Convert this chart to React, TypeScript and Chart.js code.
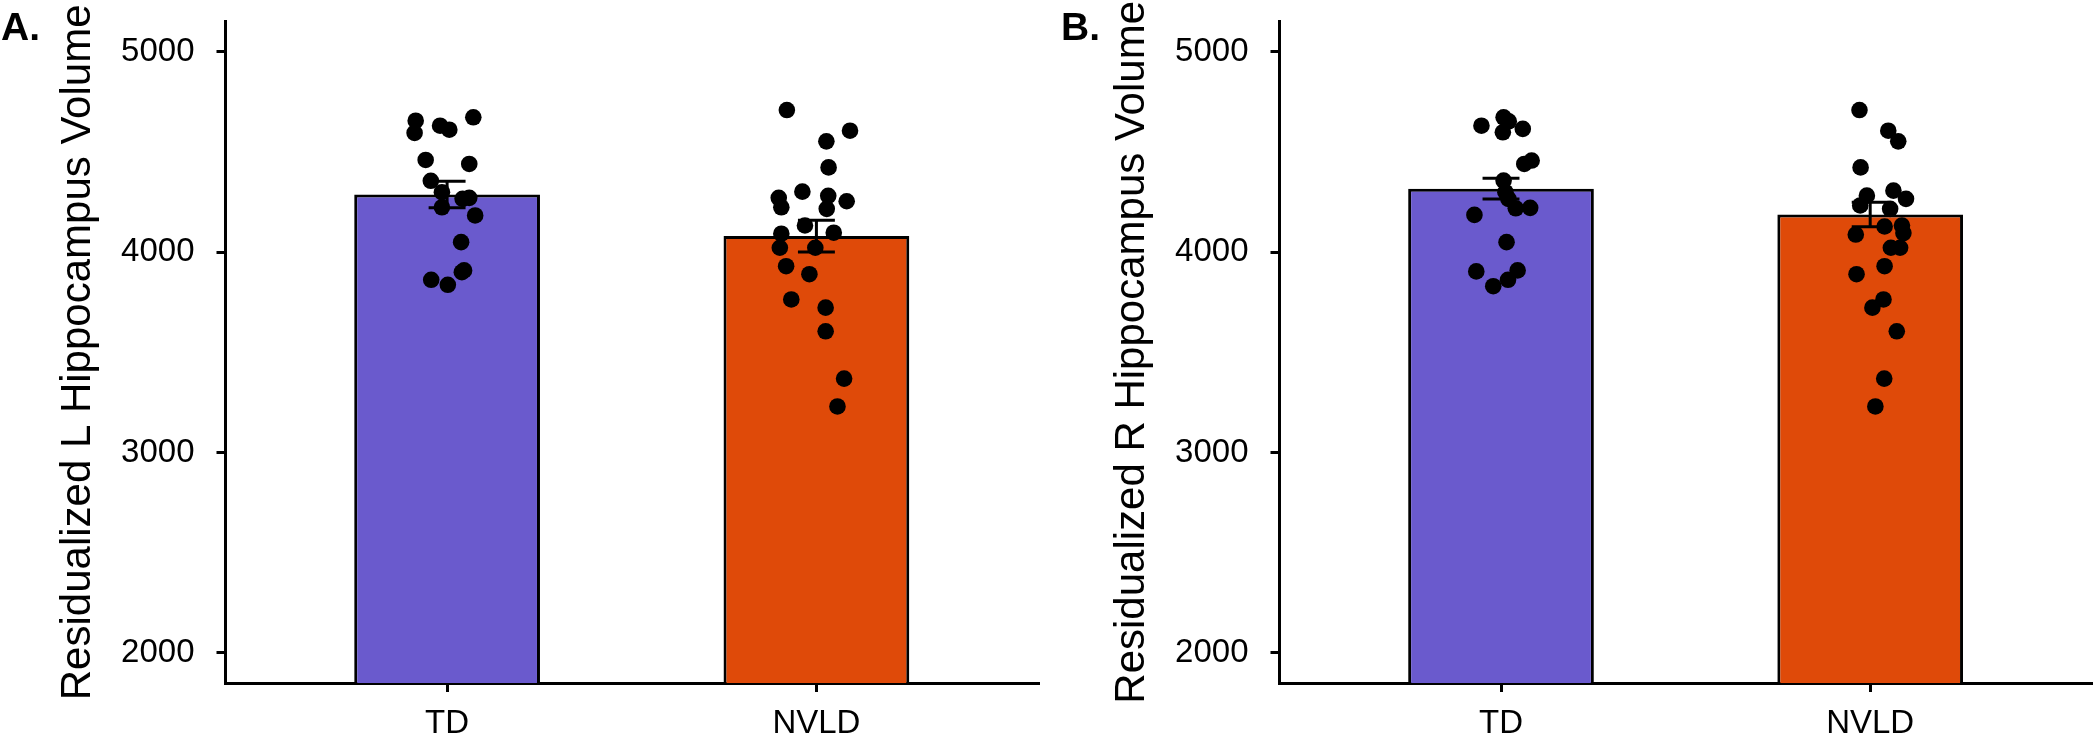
import React, { useEffect, useRef } from 'react';
import { Chart, registerables } from 'chart.js';

Chart.register(...registerables);

// ---------- data ----------
const categories = ['TD', 'NVLD'];
const barColors = ['#6A5ACD', '#DF4A09'];
const yTicks = [2000, 3000, 4000, 5000];
const yMin = 1850;
const yMax = 5150;

const panelLabels = ['A.', 'B.'];
const yTitles = ['Residualized L Hippocampus Volume', 'Residualized R Hippocampus Volume'];

// group means and standard errors
const leftMeans = [4288, 4080];
const leftSE = [66, 79];
const rightMeans = [4317, 4188];
const rightSE = [52, 61];

// individual points (values) and their horizontal jitter (in category units)
const leftTD = [4656, 4595, 4631, 4611, 4673, 4460, 4440, 4356, 4299, 4224, 4266, 4271, 4183, 4050, 3909, 3900, 3862, 3837];
const leftTDJitter = [-0.085, -0.088, -0.019, 0.006, 0.071, -0.058, 0.06, -0.044, -0.014, -0.014, 0.042, 0.06, 0.076, 0.038, 0.046, 0.04, -0.043, 0.002];
const leftNVLD = [4709, 4606, 4553, 4423, 4302, 4271, 4224, 4281, 4254, 4216, 4133, 4097, 4092, 4022, 4022, 3930, 3890, 3764, 3723, 3605, 3369, 3230];
const leftNVLDJitter = [-0.08, 0.091, 0.027, 0.033, -0.038, -0.102, -0.095, 0.032, 0.082, 0.028, -0.031, 0.047, -0.095, -0.099, -0.003, -0.082, -0.019, -0.068, 0.025, 0.025, 0.075, 0.057];

const rightTD = [4631, 4673, 4653, 4598, 4615, 4457, 4440, 4357, 4299, 4266, 4219, 4221, 4186, 4050, 3904, 3909, 3862, 3830];
const rightTDJitter = [-0.053, 0.007, 0.021, 0.005, 0.059, 0.083, 0.063, 0.007, 0.012, 0.02, 0.04, 0.079, -0.072, 0.015, -0.067, 0.045, 0.019, -0.021];
const rightNVLD = [4709, 4606, 4553, 4423, 4307, 4266, 4282, 4233, 4216, 4133, 4095, 4128, 4088, 4022, 4022, 3930, 3890, 3764, 3723, 3605, 3369, 3230];
const rightNVLDJitter = [-0.029, 0.049, 0.076, -0.026, 0.063, 0.097, -0.009, -0.027, 0.054, 0.086, 0.09, 0.039, -0.039, 0.056, 0.081, 0.039, -0.037, 0.036, 0.006, 0.072, 0.038, 0.014];

// ---------- styling ----------
const FONT = '"Liberation Sans", Arial, Helvetica, sans-serif';

type PanelCfg = {
  label: string;
  title: string;
  means: number[];
  se: number[];
  points: number[][];
  jitter: number[][];
  left: number;
  width: number;
  padRight: number;
  labelX: number;
};

const panels: PanelCfg[] = [
  {
    label: panelLabels[0],
    title: yTitles[0],
    means: leftMeans,
    se: leftSE,
    points: [leftTD, leftNVLD],
    jitter: [leftTDJitter, leftNVLDJitter],
    left: 0,
    width: 1050,
    padRight: 12,
    labelX: 1,
  },
  {
    label: panelLabels[1],
    title: yTitles[1],
    means: rightMeans,
    se: rightSE,
    points: [rightTD, rightNVLD],
    jitter: [rightTDJitter, rightNVLDJitter],
    left: 1054,
    width: 1046,
    padRight: 8.3,
    labelX: 7,
  },
];

const errorBarPlugin = {
  id: 'errbars',
  afterDatasetDraw(chart: any, args: any, opts: any) {
    if (args.index !== 0) return;
    const { ctx, scales } = chart;
    const xs = scales.x;
    const ys = scales.y;
    const means: number[] = opts.means || [];
    const se: number[] = opts.se || [];
    const half = (opts.capWidth || 0.1) / 2;
    ctx.save();
    ctx.strokeStyle = '#000';
    ctx.lineWidth = 3;
    ctx.lineCap = 'butt';
    means.forEach((m, i) => {
      const cx = xs.getPixelForValue(i + 1);
      const x0 = xs.getPixelForValue(i + 1 - half);
      const x1 = xs.getPixelForValue(i + 1 + half);
      const yt = ys.getPixelForValue(m + se[i]);
      const yb = ys.getPixelForValue(m - se[i]);
      ctx.beginPath();
      ctx.moveTo(x0, yt);
      ctx.lineTo(x1, yt);
      ctx.moveTo(cx, yt);
      ctx.lineTo(cx, yb);
      ctx.moveTo(x0, yb);
      ctx.lineTo(x1, yb);
      ctx.stroke();
    });
    ctx.restore();
  },
};

const panelLabelPlugin = {
  id: 'panelLabel',
  afterDraw(chart: any, _args: any, opts: any) {
    const { ctx } = chart;
    ctx.save();
    ctx.font = `bold 39px ${FONT}`;
    ctx.fillStyle = '#000';
    ctx.textBaseline = 'alphabetic';
    ctx.textAlign = 'left';
    ctx.fillText(opts.text || '', opts.x || 0, 40);
    ctx.restore();
  },
};

function buildConfig(p: PanelCfg): any {
  const pointData: { x: number; y: number }[] = [];
  p.points.forEach((vals, gi) => {
    vals.forEach((v, j) => {
      pointData.push({ x: gi + 1 + p.jitter[gi][j], y: v });
    });
  });

  const axisGrid = {
    drawOnChartArea: false,
    drawTicks: true,
    offset: false,
    tickLength: 9,
    lineWidth: 3,
    color: '#000',
  };
  const axisBorder = { display: true, color: '#000', width: 3 };

  return {
    type: 'bar',
    data: {
      datasets: [
        {
          type: 'bar',
          data: categories.map((_, i) => ({ x: i + 1, y: p.means[i] })),
          backgroundColor: barColors,
          borderColor: '#000',
          borderWidth: 3,
          barPercentage: 0.503,
          categoryPercentage: 1,
          order: 2,
        },
        {
          type: 'scatter',
          data: pointData,
          pointRadius: 8.3,
          pointHoverRadius: 8.3,
          backgroundColor: '#000',
          borderWidth: 0,
          order: 1,
        },
      ],
    },
    plugins: [errorBarPlugin, panelLabelPlugin],
    options: {
      responsive: false,
      animation: false,
      events: [],
      layout: { padding: { left: 0, right: p.padRight, top: 21.7, bottom: 0 } },
      plugins: {
        legend: { display: false },
        tooltip: { enabled: false },
        errbars: { means: p.means, se: p.se, capWidth: 0.1 },
        panelLabel: { text: p.label, x: p.labelX },
      },
      scales: {
        x: {
          type: 'linear',
          min: 0.4,
          max: 2.6,
          offset: false,
          afterBuildTicks: (s: any) => {
            s.ticks = categories.map((_, i) => ({ value: i + 1 }));
          },
          afterFit: (s: any) => {
            s.height = 62;
            s.paddingLeft = 0;
            s.paddingRight = 0;
          },
          ticks: {
            autoSkip: false,
            maxRotation: 0,
            minRotation: 0,
            padding: 12,
            color: '#000',
            font: { family: FONT, size: 33 },
            callback: (_v: any, idx: number) => categories[idx],
          },
          grid: axisGrid,
          border: axisBorder,
        },
        y: {
          type: 'linear',
          min: yMin,
          max: yMax,
          afterBuildTicks: (s: any) => {
            s.ticks = yTicks.map((v) => ({ value: v }));
          },
          afterFit: (s: any) => {
            s.width = 225.5;
            s.paddingTop = 0;
            s.paddingBottom = 0;
          },
          ticks: {
            padding: 22,
            color: '#000',
            font: { family: FONT, size: 33 },
            callback: (v: any) => String(v),
          },
          grid: axisGrid,
          border: axisBorder,
          title: {
            display: true,
            text: p.title,
            color: '#000',
            font: { family: FONT, size: 42 },
            padding: { top: 53, bottom: 0 },
          },
        },
      },
    },
  };
}

function Panel({ cfg }: { cfg: PanelCfg }) {
  const ref = useRef<HTMLCanvasElement>(null);
  useEffect(() => {
    if (!ref.current) return;
    const chart = new Chart(ref.current, buildConfig(cfg));
    return () => chart.destroy();
  }, [cfg]);
  return (
    <canvas
      ref={ref}
      width={cfg.width}
      height={745}
      style={{ position: 'absolute', left: cfg.left, top: 0, width: cfg.width, height: 745 }}
    />
  );
}

export default function App() {
  useEffect(() => {
    document.body.style.margin = '0';
  }, []);
  return (
    <div style={{ position: 'absolute', left: 0, top: 0, width: 2100, height: 745, background: '#fff' }}>
      {panels.map((p, i) => (
        <Panel key={i} cfg={p} />
      ))}
    </div>
  );
}
